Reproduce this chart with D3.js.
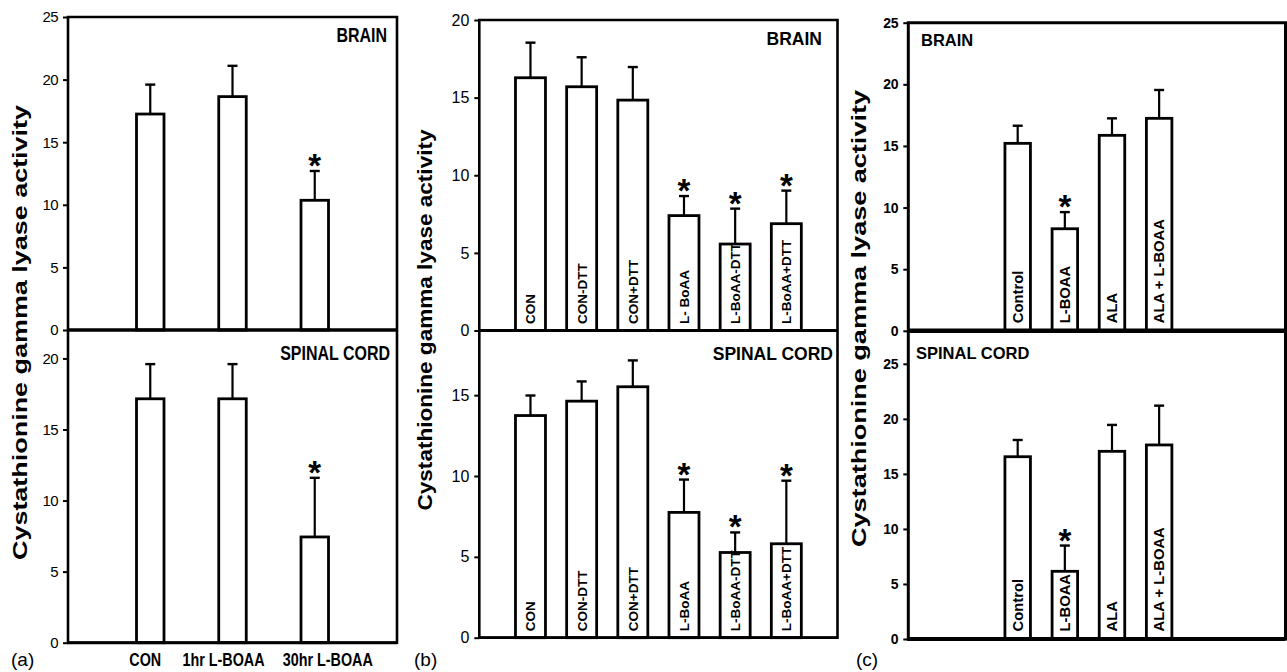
<!DOCTYPE html>
<html>
<head>
<meta charset="utf-8">
<script src="https://cdn.jsdelivr.net/npm/d3@7"></script>
<style>
body { margin: 0; background: #fff; }
text { font-family: "Liberation Sans", Arial, sans-serif; fill: #000; }
</style>
</head>
<body>
<svg width="1287" height="672"></svg>
<script>
// panel (a)
const catsA = ["CON", "1hr L-BOAA", "30hr L-BOAA"]
const brainA = [17.25, 18.64, 10.36]
const brainAErr = [2.35, 2.46, 2.34]
const cordA = [17.16, 17.16, 7.44]
const cordAErr = [2.44, 2.44, 4.16]
const starsA = [0, 0, 1]
const ticksATop = [0, 5, 10, 15, 20, 25]
const ticksABot = [0, 5, 10, 15, 20]

// panel (b)
const catsB = ["CON", "CON-DTT", "CON+DTT", "L-BoAA", "L-BoAA-DTT", "L-BoAA+DTT"]
const labelsBTop = ["CON", "CON-DTT", "CON+DTT", "L- BoAA", "L-BoAA-DTT", "L-BoAA+DTT"]
const brainB = [16.28, 15.7, 14.84, 7.4, 5.57, 6.88]
const brainBErr = [2.26, 1.9, 2.13, 1.26, 2.28, 2.13]
const cordB = [13.74, 14.63, 15.52, 7.75, 5.27, 5.81]
const cordBErr = [1.24, 1.22, 1.63, 2.03, 1.24, 3.9]
const starsB = [0, 0, 0, 1, 1, 1]
const ticksBTop = [0, 5, 10, 15, 20]
const ticksBBot = [0, 5, 10, 15]

// panel (c)
const catsC = ["Control", "L-BOAA", "ALA", "ALA + L-BOAA"]
const brainC = [15.21, 8.28, 15.86, 17.24]
const brainCErr = [1.43, 1.35, 1.38, 2.3]
const cordC = [16.56, 6.15, 17.05, 17.63]
const cordCErr = [1.52, 2.34, 2.4, 3.57]
const starsC = [0, 1, 0, 0]
const ticksCTop = [0, 5, 10, 15, 20, 25]
const ticksCBot = [0, 5, 10, 15, 20, 25]

const yTitle = "Cystathionine gamma lyase activity"

let svg = d3.select("svg")

// squeeze text horizontally, like Arial Narrow
function narrowText(g, x, y, anchor, size, str) {
    return g.append("g")
        .attr("transform", "translate(" + x + "," + y + ") scale(0.82,1)")
        .append("text")
        .attr("text-anchor", anchor)
        .style("font-size", size + "px")
        .style("font-weight", "bold")
        .text(str)
}

function drawPanel(p) {
    let x = d3.scalePoint()
        .domain(p.cats)
        .range([p.x0, p.x1])
        .padding(p.pad)
        .align(p.align)
    let yTop = d3.scaleLinear().domain([0, p.topMax]).range([p.yd, p.y0])
    let yBot = d3.scaleLinear().domain([0, p.botMax]).range([p.yb, p.yd])

    let g = svg.append("g")

    // y axes
    ;[[yTop, p.topTicks], [yBot, p.botTicks]].forEach(function(a) {
        let ax = g.append("g")
            .attr("transform", "translate(" + p.x0 + ",0)")
            .call(d3.axisLeft(a[0]).tickValues(a[1]).tickSize(5).tickPadding(5))
        ax.select(".domain").remove()
        ax.selectAll("line").attr("stroke", "#000").attr("stroke-width", 2)
        ax.selectAll("text")
            .style("font-size", p.tickSize + "px")
            .style("font-weight", p.tickWeight)
            .style("letter-spacing", p.tickSpacing + "px")
            .attr("fill", "#000")
    })

    function sub(y, vals, errs, labels) {
        let data = p.cats.map(function(c, i) {
            return { cat: c, v: vals[i], e: errs[i], star: p.stars[i], label: labels ? labels[i] : null }
        })
        let s = g.append("g")
        // error bars
        s.selectAll(".err")
            .data(data)
            .enter()
            .append("line")
            .attr("x1", d => x(d.cat)).attr("x2", d => x(d.cat))
            .attr("y1", d => y(d.v)).attr("y2", d => y(d.v + d.e))
            .attr("stroke", "#000").attr("stroke-width", 2.2)
        s.selectAll(".cap")
            .data(data)
            .enter()
            .append("line")
            .attr("x1", d => x(d.cat) - 5).attr("x2", d => x(d.cat) + 5)
            .attr("y1", d => y(d.v + d.e)).attr("y2", d => y(d.v + d.e))
            .attr("stroke", "#000").attr("stroke-width", 2.4)
        s.selectAll("rect")
            .data(data)
            .enter()
            .append("rect")
            .attr("x", d => x(d.cat) - p.barW / 2)
            .attr("y", d => y(d.v))
            .attr("width", p.barW)
            .attr("height", d => y(0) - y(d.v))
            .attr("fill", "#fff")
            .attr("stroke", "#000")
            .attr("stroke-width", 2.8)
        s.selectAll(".star")
            .data(data.filter(d => d.star))
            .enter()
            .append("text")
            .attr("x", d => x(d.cat))
            .attr("y", d => y(d.v + d.e) + 6)
            .attr("text-anchor", "middle")
            .style("font-size", "33px")
            .style("font-weight", "bold")
            .text("*")
        if (labels) {
            s.selectAll(".blab")
                .data(data)
                .enter()
                .append("text")
                .attr("transform", d => "translate(" + x(d.cat) + "," + (y(0) - p.labelDy) + ") rotate(-90)")
                .attr("dy", "0.36em")
                .style("font-size", p.barLabelSize + "px")
                .style("font-weight", "bold")
                .text(d => d.label)
        }
    }

    sub(yTop, p.brain, p.brainErr, p.topLabels)
    sub(yBot, p.cord, p.cordErr, p.botLabels)

    // frame and divider
    g.append("path")
        .attr("d", "M" + p.x0 + "," + p.y0 + "H" + p.x1 + "V" + p.yb + "H" + p.x0 + "Z")
        .attr("fill", "none")
        .attr("stroke", "#000")
        .attr("stroke-width", p.frameW)
    g.append("line")
        .attr("x1", p.x0).attr("x2", p.x1)
        .attr("y1", p.yd).attr("y2", p.yd)
        .attr("stroke", "#000")
        .attr("stroke-width", p.divW)
    g.append("line")
        .attr("x1", p.x0 - 1).attr("x2", p.x1)
        .attr("y1", p.yb).attr("y2", p.yb)
        .attr("stroke", "#000")
        .attr("stroke-width", p.divW - 0.5)

    // tissue titles
    p.titles.forEach(function(t, i) {
        let str = i == 0 ? "BRAIN" : "SPINAL CORD"
        if (p.narrowTitles) {
            narrowText(g, t.x, t.y, t.anchor, p.titleSize, str)
        } else {
            g.append("text")
                .attr("x", t.x)
                .attr("y", t.y)
                .attr("text-anchor", t.anchor)
                .style("font-size", p.titleSize + "px")
                .style("font-weight", "bold")
                .text(str)
        }
    })

    // y title
    g.append("text")
        .attr("transform", "translate(" + p.ylX + "," + p.ylY + ") rotate(-90)")
        .attr("text-anchor", "middle")
        .attr("textLength", p.ylLen)
        .attr("lengthAdjust", "spacingAndGlyphs")
        .style("font-size", p.ylSize + "px")
        .style("font-weight", "bold")
        .text(yTitle)

    // panel letter
    g.append("text")
        .attr("x", p.letterX)
        .attr("y", 666)
        .style("font-size", "19px")
        .text(p.letter)

    // category labels under axis
    if (p.xLabelShift) {
        p.cats.forEach(function(c, i) {
            narrowText(g, x(c) + p.xLabelShift[i], 666, "middle", 17.5, c)
        })
    }
}

drawPanel({
    cats: catsA, brain: brainA, brainErr: brainAErr, cord: cordA, cordErr: cordAErr, stars: starsA,
    topTicks: ticksATop, botTicks: ticksABot, topMax: 25, botMax: 22,
    x0: 68, x1: 397, y0: 17, yd: 330, yb: 642.7, pad: 1, align: 0.5, barW: 27.5,
    tickSize: 15, tickWeight: "normal", tickSpacing: -0.6, frameW: 2.6, divW: 3.6,
    titles: [{ x: 387, y: 42, anchor: "end" }, { x: 390, y: 360, anchor: "end" }],
    titleSize: 19.5, narrowTitles: true,
    ylX: 26.5, ylY: 332.5, ylLen: 455, ylSize: 21,
    letter: "(a)", letterX: 11, xLabelShift: [-5, -9, 13]
})

drawPanel({
    cats: catsB, brain: brainB, brainErr: brainBErr, cord: cordB, cordErr: cordBErr, stars: starsB,
    topTicks: ticksBTop, botTicks: ticksBBot, topMax: 20, botMax: 19,
    x0: 479.3, x1: 837.5, y0: 20, yd: 330.5, yb: 637.7, pad: 1, align: 0.5, barW: 30,
    topLabels: labelsBTop, botLabels: catsB, labelDy: 6.5, barLabelSize: 13.5,
    tickSize: 16, tickWeight: "normal", tickSpacing: 0, frameW: 2.6, divW: 3.2,
    titles: [{ x: 822, y: 44.5, anchor: "end" }, { x: 833, y: 359.5, anchor: "end" }],
    titleSize: 17.5, narrowTitles: false,
    ylX: 432, ylY: 320, ylLen: 381, ylSize: 21,
    letter: "(b)", letterX: 414
})

drawPanel({
    cats: catsC, brain: brainC, brainErr: brainCErr, cord: cordC, cordErr: cordCErr, stars: starsC,
    topTicks: ticksCTop, botTicks: ticksCBot, topMax: 25, botMax: 28,
    x0: 908.3, x1: 1285.5, y0: 22.7, yd: 330.8, yb: 639, pad: 2.5, align: 0.464, barW: 25.5,
    topLabels: catsC, botLabels: catsC, labelDy: 7.5, barLabelSize: 14.8,
    tickSize: 14, tickWeight: "bold", tickSpacing: -0.3, frameW: 3, divW: 4.5,
    titles: [{ x: 921, y: 45.7, anchor: "start" }, { x: 916, y: 359, anchor: "start" }],
    titleSize: 16.5, narrowTitles: false,
    ylX: 866, ylY: 318.5, ylLen: 457, ylSize: 21,
    letter: "(c)", letterX: 856
})
</script>
</body>
</html>
